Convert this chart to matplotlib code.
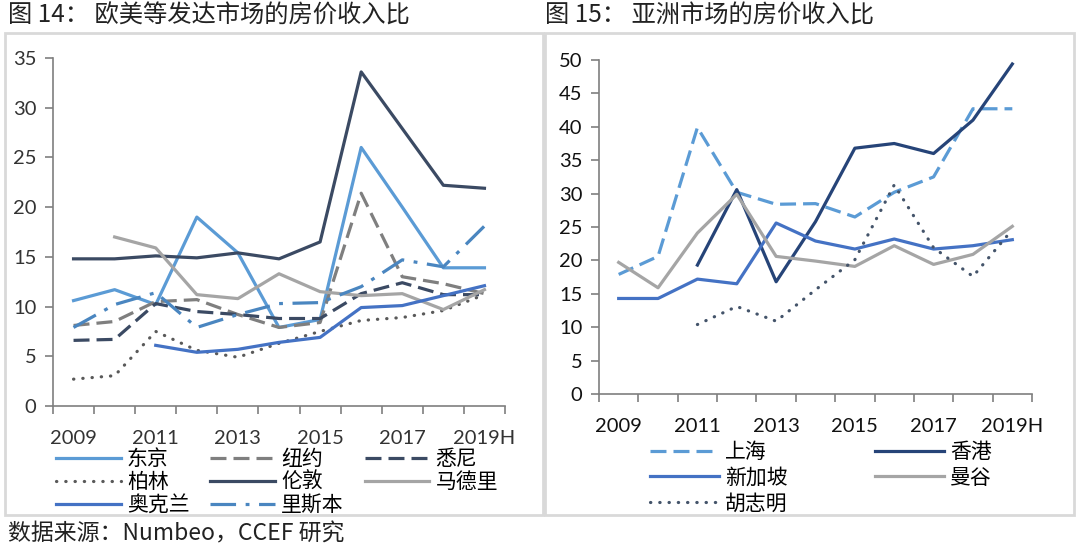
import matplotlib.pyplot as plt
from matplotlib.patches import Rectangle
import numpy as np

plt.rcParams['font.family'] = ['Lato', 'Noto Sans CJK SC', 'DejaVu Sans']

years = ['2009', '2010', '2011', '2012', '2013', '2014', '2015', '2016', '2017', '2018', '2019H']
nan = np.nan

# 图 14 data
tokyo = [10.6, 11.7, 10.2, 19.0, 15.4, 7.9, 8.7, 26.0, 20.0, 13.9, 13.9]
new_york = [8.1, 8.5, 10.5, 10.7, 9.2, 7.9, 8.4, 21.4, 13.0, 12.3, 11.3]
sydney = [6.6, 6.7, 10.3, 9.5, 9.2, 8.8, 8.8, 11.3, 12.4, 11.2, 11.2]
berlin = [2.7, 3.05, 7.5, 5.6, 4.9, 6.3, 7.5, 8.6, 8.9, 9.6, 11.2]
london = [14.8, 14.8, 15.1, 14.9, 15.4, 14.8, 16.5, 33.6, 27.9, 22.2, 21.9]
madrid = [nan, 17.0, 15.9, 11.2, 10.8, 13.3, 11.5, 11.1, 11.3, 9.7, 11.7]
auckland = [nan, nan, 6.1, 5.4, 5.7, 6.4, 6.9, 9.9, 10.1, 11.1, 12.1]
lisbon = [7.9, 10.2, 11.4, 7.9, 9.2, 10.3, 10.4, 12.0, 14.7, 14.0, 18.1]

# 图 15 data
shanghai = [17.9, 20.6, 39.9, 30.2, 28.4, 28.5, 26.5, 30.2, 32.5, 42.7, 42.7]
hong_kong = [nan, nan, 19.3, 30.6, 16.8, 25.8, 36.8, 37.5, 36.0, 41.0, 49.4]
singapore = [14.3, 14.3, 17.2, 16.5, 25.6, 22.9, 21.7, 23.2, 21.7, 22.2, 23.1]
bangkok = [19.7, 15.9, 24.1, 29.9, 20.6, 19.9, 19.1, 22.2, 19.4, 20.9, 25.1]
hcm = [nan, nan, 10.4, 13.1, 10.9, 15.6, 20.1, 31.3, 21.9, 17.6, 24.6]

x = np.arange(len(years))

fig = plt.figure(figsize=(10.8, 5.5), dpi=100)

# panel frames
for x0, w in [(0.005, 0.498), (0.505, 0.489)]:
    fig.patches.append(Rectangle((x0, 1 - 515 / 550), w, (515 - 33) / 550,
                                 transform=fig.transFigure, fill=False,
                                 edgecolor='#D9D9D9', lw=2))

cjk = ['Noto Sans CJK SC']
fig.text(0.007, 0.972, '图 14： 欧美等发达市场的房价收入比', fontsize=17.5,
         family=cjk, va='center', color='#222222')
fig.text(0.505, 0.972, '图 15： 亚洲市场的房价收入比', fontsize=17.5,
         family=cjk, va='center', color='#222222')
fig.text(0.007, 0.03, '数据来源：Numbeo，CCEF 研究', fontsize=16.5,
         family=cjk, va='center', color='#222222')


def style(ax, ymax, step, color):
    ax.set_xlim(-0.5, len(years) - 0.5)
    ax.set_ylim(0, ymax)
    ax.set_yticks(np.arange(0, ymax + 1, step))
    ax.set_xticks(np.arange(-0.5, len(years), 1))
    ax.set_xticklabels([])
    ax.set_xticks(x[::2], minor=True)
    ax.set_xticklabels(years[::2], minor=True)
    ax.tick_params(axis='x', which='minor', length=0, pad=17, labelsize=14.5, labelcolor=color)
    ax.tick_params(axis='x', which='major', length=6, width=1.2, color='#7F7F7F')
    ax.tick_params(axis='y', length=6, width=1.2, color='#7F7F7F', labelsize=14.5,
                   labelcolor=color, pad=6)
    for s in ['top', 'right']:
        ax.spines[s].set_visible(False)
    for s in ['left', 'bottom']:
        ax.spines[s].set_color('#7F7F7F')
        ax.spines[s].set_linewidth(1.2)


lw = 2.3
dash = (5, 2.2)
dots = (0.1, 2.8)
ax1 = fig.add_axes([53 / 1080, 1 - 406 / 550, (505 - 53) / 1080, (406 - 58) / 550])
l_tokyo, = ax1.plot(x, tokyo, color='#5B9BD5', lw=lw, label='东京')
l_ny, = ax1.plot(x, new_york, color='#7F7F7F', lw=lw, dashes=dash, label='纽约')
l_syd, = ax1.plot(x, sydney, color='#3B4A63', lw=lw, dashes=dash, label='悉尼')
l_ber, = ax1.plot(x, berlin, color='#595959', lw=lw, dashes=dots,
                  dash_capstyle='round', label='柏林')
l_lon, = ax1.plot(x, london, color='#3B4A63', lw=lw, label='伦敦')
l_mad, = ax1.plot(x, madrid, color='#A5A5A5', lw=lw, label='马德里')
l_auk, = ax1.plot(x, auckland, color='#4472C4', lw=lw, label='奥克兰')
l_lis, = ax1.plot(x, lisbon, color='#4A86C0', lw=lw, dashes=(8, 3, 1.2, 3), label='里斯本')
style(ax1, 35, 5, '#333333')

h1 = [l_tokyo, l_ber, l_auk, l_ny, l_lon, l_lis, l_syd, l_mad]
fig.legend(handles=h1, labels=[h.get_label() for h in h1], ncol=3,
           loc='upper left', bbox_to_anchor=(56 / 1080, 1 - 448 / 550),
           frameon=False, handlelength=3.1, handletextpad=0.3,
           columnspacing=1.0, labelspacing=0.05, borderpad=0, borderaxespad=0,
           prop={'family': cjk, 'size': 15})

ax2 = fig.add_axes([599 / 1080, 1 - 394 / 550, (1032 - 599) / 1080, (394 - 60) / 550])
l_sh, = ax2.plot(x, shanghai, color='#5B9BD5', lw=lw, dashes=dash, label='上海')
l_hk, = ax2.plot(x, hong_kong, color='#264478', lw=lw, label='香港')
l_sg, = ax2.plot(x, singapore, color='#4472C4', lw=lw, label='新加坡')
l_bk, = ax2.plot(x, bangkok, color='#A5A5A5', lw=lw, label='曼谷')
l_hcm, = ax2.plot(x, hcm, color='#44546A', lw=lw, dashes=dots,
                  dash_capstyle='round', label='胡志明')
style(ax2, 50, 5, '#111111')

h2 = [l_sh, l_sg, l_hcm, l_hk, l_bk]
fig.legend(handles=h2, labels=[h.get_label() for h in h2], ncol=2,
           loc='upper left', bbox_to_anchor=(650 / 1080, 1 - 441 / 550),
           frameon=False, handlelength=3.3, handletextpad=0.3,
           columnspacing=4.2, labelspacing=0.18, borderpad=0, borderaxespad=0,
           prop={'family': cjk, 'size': 15})

fig.savefig('out.png', dpi=100)
